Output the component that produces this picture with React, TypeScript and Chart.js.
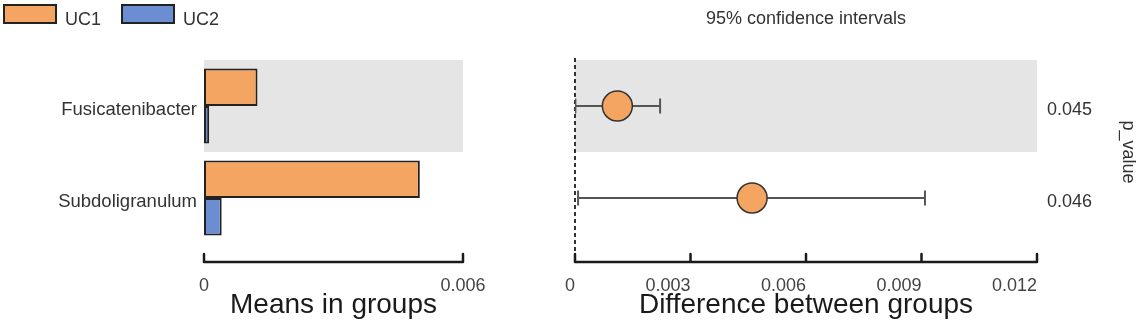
import React, { useEffect, useRef } from 'react';
import { Chart, registerables } from 'chart.js';

Chart.register(...registerables);

const categories = ['Fusicatenibacter', 'Subdoligranulum'];
const groupNames = ['UC1', 'UC2'];
const uc1Means = [0.00124, 0.005];
const uc2Means = [0.00012, 0.00041];
const diffEstimates = [0.0011, 0.0046];
const ciLower = [0.00001, 0.00008];
const ciUpper = [0.00221, 0.00909];
const pValues = ['0.045', '0.046'];
const meansTickValues = [0, 0.006];
const meansTickLabels = ['0', '0.006'];
const diffTickValues = [0, 0.003, 0.006, 0.009, 0.012];
const diffTickLabels = ['0', '0.003', '0.006', '0.009', '0.012'];
const shadedRows = [0];

const FONT = "'Liberation Sans', Arial, Helvetica, sans-serif";
const ORANGE = '#F4A562';
const BLUE = '#6A8ED1';
const BAND = '#E5E5E5';

Chart.defaults.font.family = FONT;

const bandPlugin = {
  id: 'rowBands',
  beforeDatasetsDraw(chart: any) {
    const { ctx, chartArea, scales } = chart;
    const y = scales.y;
    const step = y.getPixelForValue(1) - y.getPixelForValue(0);
    ctx.save();
    ctx.fillStyle = BAND;
    shadedRows.forEach((idx) => {
      const c = y.getPixelForValue(idx);
      ctx.fillRect(chartArea.left, c - step / 2, chartArea.right - chartArea.left, step);
    });
    ctx.restore();
  },
};

const zeroLinePlugin = {
  id: 'zeroLine',
  beforeDatasetsDraw(chart: any) {
    const { ctx, chartArea, scales } = chart;
    const x = scales.x.getPixelForValue(0);
    ctx.save();
    ctx.strokeStyle = '#333';
    ctx.lineWidth = 2;
    ctx.setLineDash([4, 3]);
    ctx.beginPath();
    ctx.moveTo(x, chartArea.top - 2);
    ctx.lineTo(x, scales.x.top + 12);
    ctx.stroke();
    ctx.restore();
  },
};

const axisLinePlugin = {
  id: 'axisLine',
  afterDraw(chart: any) {
    const { ctx, scales } = chart;
    const xs = scales.x;
    const yLine = xs.top + 18;
    const ticks = xs.ticks.map((t: any) => xs.getPixelForValue(t.value));
    ctx.save();
    ctx.strokeStyle = '#1a1a1a';
    ctx.lineWidth = 2.5;
    ctx.lineJoin = 'round';
    ctx.lineCap = 'round';
    ctx.beginPath();
    ctx.moveTo(ticks[0], yLine);
    ctx.lineTo(ticks[ticks.length - 1], yLine);
    ticks.forEach((px: number) => {
      ctx.moveTo(px, yLine);
      ctx.lineTo(px, yLine - 8);
    });
    ctx.stroke();
    ctx.restore();
  },
};

const groupLegendPlugin = {
  id: 'groupLegend',
  afterDraw(chart: any) {
    const { ctx } = chart;
    ctx.save();
    ctx.font = `18px ${FONT}`;
    ctx.textBaseline = 'alphabetic';
    let x = 3;
    chart.data.datasets.forEach((ds: any) => {
      ctx.fillStyle = ds.backgroundColor;
      ctx.fillRect(x, 4, 54, 20);
      ctx.lineWidth = 2;
      ctx.strokeStyle = '#222';
      ctx.strokeRect(x + 1, 5, 52, 18);
      ctx.fillStyle = '#333';
      ctx.fillText(ds.label, x + 62, 25);
      x += 62 + ctx.measureText(ds.label).width + 20;
    });
    ctx.restore();
  },
};

export default function App() {
  const leftRef = useRef<HTMLCanvasElement>(null);
  const rightRef = useRef<HTMLCanvasElement>(null);

  useEffect(() => {
    const left = new Chart(leftRef.current as HTMLCanvasElement, {
      type: 'bar',
      data: {
        labels: categories,
        datasets: [
          {
            label: groupNames[0],
            data: uc1Means,
            backgroundColor: ORANGE,
            borderColor: '#222',
            borderWidth: 2,
            borderSkipped: false,
            categoryPercentage: 0.815,
            barPercentage: 1,
          },
          {
            label: groupNames[1],
            data: uc2Means,
            backgroundColor: BLUE,
            borderColor: '#222',
            borderWidth: 2,
            borderSkipped: false,
            categoryPercentage: 0.815,
            barPercentage: 1,
          },
        ],
      },
      options: {
        indexAxis: 'y',
        animation: false,
        responsive: false,
        devicePixelRatio: 1,
        events: [],
        layout: { padding: { top: 60, right: 77, left: 0, bottom: 0 } },
        plugins: {
          legend: { display: false },
          tooltip: { enabled: false },
          title: { display: false },
        },
        scales: {
          x: {
            type: 'linear',
            min: 0,
            max: 0.006,
            grid: { display: false },
            border: { display: false },
            afterBuildTicks: (s: any) => {
              s.ticks = meansTickValues.map((v) => ({ value: v }));
            },
            afterFit: (s: any) => {
              s.height = 86;
            },
            ticks: {
              padding: 23,
              color: '#444',
              font: { size: 18 },
              maxRotation: 0,
              autoSkip: false,
              callback: (_v: any, i: number) => meansTickLabels[i],
            },
            title: {
              display: true,
              text: 'Means in groups',
              color: '#1a1a1a',
              font: { size: 28 },
              padding: { top: 0, bottom: 8 },
            },
          },
          y: {
            grid: { display: false, drawTicks: false },
            border: { display: false },
            afterFit: (s: any) => {
              s.width = 204;
            },
            ticks: {
              padding: 7,
              color: '#333',
              font: { size: 18.5 },
              labelOffset: 4,
            },
          },
        },
      } as any,
      plugins: [bandPlugin, axisLinePlugin, groupLegendPlugin],
    });

    const right = new Chart(rightRef.current as HTMLCanvasElement, {
      type: 'scatter',
      data: {
        labels: categories,
        datasets: [
          {
            label: 'Difference',
            data: categories.map((c, i) => ({ x: diffEstimates[i], y: c })),
            showLine: false,
            pointRadius: 15,
            pointBackgroundColor: ORANGE,
            pointBorderColor: '#333',
            pointBorderWidth: 1.5,
          },
          ...categories.map((c, i) => ({
            label: `CI ${c}`,
            data: [
              { x: ciLower[i], y: c },
              { x: ciUpper[i], y: c },
            ],
            showLine: true,
            borderColor: '#555',
            borderWidth: 2,
            pointStyle: 'line',
            pointRotation: 90,
            pointRadius: 7.5,
            pointBorderColor: '#555',
            pointBackgroundColor: '#555',
            pointBorderWidth: 2,
          })),
        ],
      } as any,
      options: {
        animation: false,
        responsive: false,
        devicePixelRatio: 1,
        events: [],
        layout: { padding: { top: 0, right: 0, left: 35, bottom: 0 } },
        plugins: {
          legend: { display: false },
          tooltip: { enabled: false },
          title: {
            display: true,
            text: '95% confidence intervals',
            fullSize: false,
            color: '#333',
            font: { size: 18, weight: 'normal' },
            padding: { top: 8, bottom: 30.4 },
          },
        },
        scales: {
          x: {
            type: 'linear',
            min: 0,
            max: 0.012,
            grid: { display: false },
            border: { display: false },
            afterBuildTicks: (s: any) => {
              s.ticks = diffTickValues.map((v) => ({ value: v }));
            },
            afterFit: (s: any) => {
              s.height = 86;
            },
            ticks: {
              padding: 23,
              align: 'end',
              color: '#444',
              font: { size: 18 },
              maxRotation: 0,
              autoSkip: false,
              callback: (_v: any, i: number) => diffTickLabels[i],
            },
            title: {
              display: true,
              text: 'Difference between groups',
              color: '#1a1a1a',
              font: { size: 28 },
              padding: { top: 0, bottom: 8 },
            },
          },
          y: {
            type: 'category',
            position: 'right',
            offset: true,
            grid: { display: false, drawTicks: false },
            border: { display: false },
            afterFit: (s: any) => {
              s.width = 105;
            },
            ticks: {
              padding: 10,
              color: '#333',
              font: { size: 18 },
              labelOffset: 4,
              callback: (_v: any, i: number) => pValues[i],
            },
            title: {
              display: true,
              text: 'p_value',
              color: '#333',
              font: { size: 18 },
              padding: { top: 3, bottom: 0 },
            },
          },
        },
      } as any,
      plugins: [bandPlugin, zeroLinePlugin, axisLinePlugin],
    });

    return () => {
      left.destroy();
      right.destroy();
    };
  }, []);

  return (
    <div style={{ position: 'absolute', left: 0, top: 0, width: 1142, height: 330, background: '#fff' }}>
      <canvas
        ref={leftRef}
        width={540}
        height={330}
        style={{ position: 'absolute', left: 0, top: 0, width: 540, height: 330 }}
      />
      <canvas
        ref={rightRef}
        width={602}
        height={330}
        style={{ position: 'absolute', left: 540, top: 0, width: 602, height: 330 }}
      />
    </div>
  );
}
